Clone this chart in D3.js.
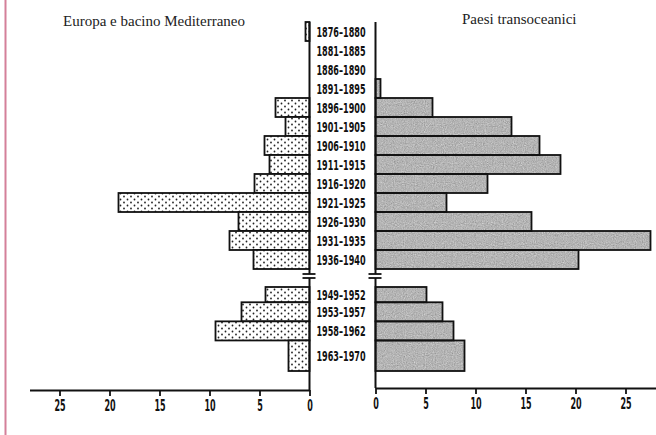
<!DOCTYPE html>
<html>
<head>
<meta charset="utf-8">
<script src="https://cdn.jsdelivr.net/npm/d3@7"></script>
<style>
  html, body { margin: 0; padding: 0; background: #fff; }
  svg { display: block; }
</style>
</head>
<body>
<script>
// ---- data ----
const periods = ["1876–1880","1881–1885","1886–1890","1891–1895","1896–1900","1901–1905","1906–1910","1911–1915","1916–1920","1921–1925","1926–1930","1931–1935","1936–1940","1949–1952","1953–1957","1958–1962","1963–1970"];
const startYears = [1876,1881,1886,1891,1896,1901,1906,1911,1916,1921,1926,1931,1936,1949,1953,1958,1963];
const endYears   = [1880,1885,1890,1895,1900,1905,1910,1915,1920,1925,1930,1935,1940,1952,1957,1962,1970];
const europa         = [0.4,0,0,0,3.4,2.4,4.5,4.0,5.5,19.1,7.1,8.0,5.6,4.4,6.8,9.4,2.1];
const transoceanici  = [0,0,0,0.5,5.7,13.6,16.4,18.5,11.2,7.1,15.6,27.5,20.3,5.1,6.7,7.8,8.9];
const tickValues = [0,5,10,15,20,25];
const titleLeft = "Europa e bacino Mediterraneo";
const titleRight = "Paesi transoceanici";

const W = 656, H = 435;
const svg = d3.select("body").append("svg").attr("width", W).attr("height", H);

// patterns
const defs = svg.append("defs");
const dots = defs.append("pattern").attr("id","dots").attr("patternUnits","userSpaceOnUse")
  .attr("width",7).attr("height",6);
dots.append("rect").attr("width",7).attr("height",6).attr("fill","#fff");
dots.append("circle").attr("cx",1.5).attr("cy",1.5).attr("r",0.9).attr("fill","#222");
dots.append("circle").attr("cx",5).attr("cy",4.5).attr("r",0.9).attr("fill","#222");

const f = defs.append("filter").attr("id","grain").attr("x",0).attr("y",0).attr("width",1).attr("height",1)
  .attr("color-interpolation-filters","sRGB");
f.append("feTurbulence").attr("type","fractalNoise").attr("baseFrequency",0.9).attr("numOctaves",2).attr("seed",3).attr("result","n");
f.append("feColorMatrix").attr("in","n").attr("type","matrix")
  .attr("values","0.33 0.33 0.33 0 0  0.33 0.33 0.33 0 0  0.33 0.33 0.33 0 0  0 0 0 0 1").attr("result","g");
f.append("feComponentTransfer").attr("in","g").attr("result","g2")
  .call(s => ["R","G","B"].forEach(c => s.append("feFunc"+c).attr("type","linear").attr("slope",0.5).attr("intercept",0.46)));
f.append("feComposite").attr("in","g2").attr("in2","SourceGraphic").attr("operator","in");

// scales
const y = d3.scaleLinear().domain([1876,1941,1949,1971]).range([22,269,287,371]);
const xL = d3.scaleLinear().domain([0,28]).range([309.5, 29.5]);
const xR = d3.scaleLinear().domain([0,28]).range([375.5, 655.5]);

const rows = periods.map((p,i) => ({p, s:startYears[i], e:endYears[i]+1, l:europa[i], r:transoceanici[i]}));

// left pink border
svg.append("line").attr("x1",5.5).attr("x2",5.5).attr("y1",0).attr("y2",H)
  .attr("stroke","#d4809a").attr("stroke-width",2);

// titles
svg.append("text").attr("x",63).attr("y",26).text(titleLeft)
  .attr("font-family","Liberation Serif, serif").attr("font-size",15).attr("fill","#222");
svg.append("text").attr("x",462).attr("y",24).text(titleRight)
  .attr("font-family","Liberation Serif, serif").attr("font-size",15).attr("fill","#222");

// left bars
svg.append("g").selectAll("rect").data(rows.filter(d => d.l > 0)).join("rect")
  .attr("x", d => xL(d.l)).attr("width", d => xL(0) - xL(d.l))
  .attr("y", d => y(d.s)).attr("height", d => y(d.e) - y(d.s))
  .attr("fill","url(#dots)").attr("stroke","#111").attr("stroke-width",1.8);

// right bars (grain fill + outline)
const rg = svg.append("g");
rg.selectAll("rect.fill").data(rows.filter(d => d.r > 0)).join("rect").attr("class","fill")
  .attr("x", xR(0)).attr("width", d => xR(d.r) - xR(0))
  .attr("y", d => y(d.s)).attr("height", d => y(d.e) - y(d.s))
  .attr("fill","#b8b8b8").attr("filter","url(#grain)");
rg.selectAll("rect.out").data(rows.filter(d => d.r > 0)).join("rect").attr("class","out")
  .attr("x", xR(0)).attr("width", d => xR(d.r) - xR(0))
  .attr("y", d => y(d.s)).attr("height", d => y(d.e) - y(d.s))
  .attr("fill","none").attr("stroke","#111").attr("stroke-width",1.8);

// vertical baselines with break
const axisYL = 390, axisYR = 388;
const brk1 = 274, brk2 = 278;
[[xL(0), axisYL],[xR(0), axisYR]].forEach(([x, yb]) => {
  svg.append("line").attr("x1",x).attr("x2",x).attr("y1",y(1876)).attr("y2",brk1)
    .attr("stroke","#111").attr("stroke-width",2);
  svg.append("line").attr("x1",x).attr("x2",x).attr("y1",brk2).attr("y2",yb)
    .attr("stroke","#111").attr("stroke-width",2);
  [brk1, brk2].forEach(by => svg.append("line").attr("x1",x-7).attr("x2",x+6).attr("y1",by).attr("y2",by)
    .attr("stroke","#111").attr("stroke-width",1.8));
});

// period labels
svg.append("g").selectAll("text").data(rows).join("text")
  .attr("x", 341).attr("y", d => (y(d.s)+y(d.e))/2 + 5)
  .attr("text-anchor","middle")
  .attr("font-family","DejaVu Sans, sans-serif").attr("font-weight","bold").attr("font-size",14)
  .attr("textLength",49).attr("lengthAdjust","spacingAndGlyphs")
  .attr("fill","#111").text(d => d.p);

// axes
function drawAxis(scale, yPos) {
  const g = svg.append("g").attr("transform",`translate(0,${yPos})`)
    .call(d3.axisBottom(scale).tickValues(tickValues).tickSize(6).tickSizeOuter(0).tickPadding(4));
  g.select(".domain").attr("stroke","#111").attr("stroke-width",2);
  g.selectAll(".tick line").attr("stroke","#111").attr("stroke-width",1.8);
  g.selectAll(".tick text")
    .attr("font-family","DejaVu Sans, sans-serif").attr("font-weight","bold").attr("font-size",16)
    .attr("fill","#111")
    .attr("textLength", d => String(d).length * 5.6).attr("lengthAdjust","spacingAndGlyphs");
}
drawAxis(xL, axisYL);
drawAxis(xR, axisYR);
</script>
</body>
</html>
